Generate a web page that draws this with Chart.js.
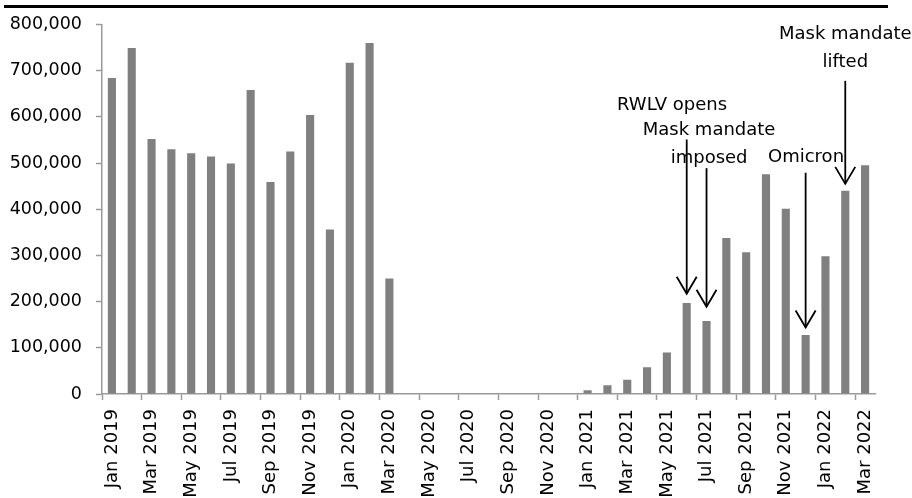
<!DOCTYPE html>
<html>
<head>
<meta charset="utf-8">
<script src="https://cdn.jsdelivr.net/npm/chart.js@4"></script>
<style>
  html, body { margin: 0; padding: 0; background: #fff; }
  #wrap { position: relative; width: 912px; height: 498px; }
  #topRule { position: absolute; left: 4px; top: 5px; width: 884px; height: 3px; background: #000; }
</style>
</head>
<body>
<div id="wrap">
  <canvas id="visitsChart"></canvas>
  <div id="topRule"></div>
</div>
<script>
// monthly values
const months = [
    'Jan 2019', 'Feb 2019', 'Mar 2019', 'Apr 2019', 'May 2019', 'Jun 2019',
    'Jul 2019', 'Aug 2019', 'Sep 2019', 'Oct 2019', 'Nov 2019', 'Dec 2019',
    'Jan 2020', 'Feb 2020', 'Mar 2020', 'Apr 2020', 'May 2020', 'Jun 2020',
    'Jul 2020', 'Aug 2020', 'Sep 2020', 'Oct 2020', 'Nov 2020', 'Dec 2020',
    'Jan 2021', 'Feb 2021', 'Mar 2021', 'Apr 2021', 'May 2021', 'Jun 2021',
    'Jul 2021', 'Aug 2021', 'Sep 2021', 'Oct 2021', 'Nov 2021', 'Dec 2021',
    'Jan 2022', 'Feb 2022', 'Mar 2022'
];
const visitors = [
    684000, 749000, 552000, 530000, 521000, 514000,
    499000, 658000, 459000, 525000, 604000, 356000,
    717000, 760000, 250000, 0, 0, 0,
    0, 0, 0, 0, 0, 0,
    8000, 19000, 31000, 58000, 90000, 197000,
    158000, 338000, 307000, 476000, 401000, 128000,
    298000, 440000, 495000
];

// event notes: which month, arrow tip / tail in data units, text
const noteLines = [['RWLV opens'], ['Mask mandate', 'imposed'], ['Omicron'], ['Mask mandate', 'lifted']];
const noteMonth = ['Jun 2021', 'Jul 2021', 'Dec 2021', 'Feb 2022'];
const noteTip = [217000, 189000, 144000, 455000];
const noteTail = [551000, 489000, 479000, 678000];
const noteTextValue = [624000, 571000, 513000, 779000];
const noteTextShift = [-0.74, 0.13, 0.02, 0];

const FONT = '"DejaVu Sans", Verdana, sans-serif';

const arrowNotes = {
    id: 'arrowNotes',
    afterDatasetsDraw(chart) {
        const { ctx, scales: { x, y } } = chart;
        ctx.save();
        ctx.strokeStyle = '#000';
        ctx.fillStyle = '#000';
        ctx.lineWidth = 1.8;
        ctx.font = '18px ' + FONT;
        ctx.textAlign = 'center';
        ctx.textBaseline = 'middle';
        noteMonth.forEach((m, i) => {
            const idx = months.indexOf(m);
            const px = x.getPixelForValue(idx);
            const tipY = y.getPixelForValue(noteTip[i]);
            const tailY = y.getPixelForValue(noteTail[i]);
            const tx = x.getPixelForValue(idx + noteTextShift[i]);
            const ty = y.getPixelForValue(noteTextValue[i]);
            noteLines[i].forEach((line, k) => ctx.fillText(line, tx, ty + k * 28));

            ctx.beginPath();
            ctx.moveTo(px, tailY);
            ctx.lineTo(px, tipY);
            ctx.stroke();
            ctx.beginPath();
            ctx.moveTo(px - 10, tipY - 17);
            ctx.lineTo(px, tipY);
            ctx.lineTo(px + 10, tipY - 17);
            ctx.stroke();
        });
        ctx.restore();
    }
};

const axisGrey = '#9a9a9a';

new Chart(document.getElementById('visitsChart'), {
    type: 'bar',
    data: {
        labels: months,
        datasets: [{
            data: visitors,
            backgroundColor: '#808080',
            barPercentage: 0.41,
            categoryPercentage: 1
        }]
    },
    options: {
        responsive: true,
        maintainAspectRatio: false,
        animation: false,
        layout: { padding: { left: 0, top: 21, right: 37, bottom: 0 } },
        plugins: {
            legend: { display: false },
            tooltip: { enabled: false }
        },
        scales: {
            x: {
                offset: true,
                afterFit: (s) => { s.height = 104; },
                border: { color: axisGrey, width: 1.5 },
                grid: {
                    offset: true,
                    drawOnChartArea: false,
                    drawTicks: true,
                    tickLength: 6,
                    tickWidth: 1.5,
                    tickColor: (c) => (c.index % 2 === 0 ? axisGrey : 'rgba(0,0,0,0)')
                },
                ticks: {
                    autoSkip: false,
                    minRotation: 90,
                    maxRotation: 90,
                    padding: 9,
                    color: '#000',
                    font: { family: FONT, size: 18 },
                    callback: function(v, i) { return i % 2 === 0 ? this.getLabelForValue(v) : ''; }
                }
            },
            y: {
                min: 0,
                max: 800000,
                afterFit: (s) => { s.width = 102; },
                border: { color: axisGrey, width: 1.5 },
                grid: {
                    drawOnChartArea: false,
                    drawTicks: true,
                    tickLength: 6,
                    tickWidth: 1.5,
                    tickColor: axisGrey
                },
                ticks: {
                    stepSize: 100000,
                    padding: 14,
                    color: '#000',
                    font: { family: FONT, size: 17.5 },
                    callback: (v) => v.toLocaleString('en-US')
                }
            }
        }
    },
    plugins: [arrowNotes]
});
</script>
</body>
</html>
